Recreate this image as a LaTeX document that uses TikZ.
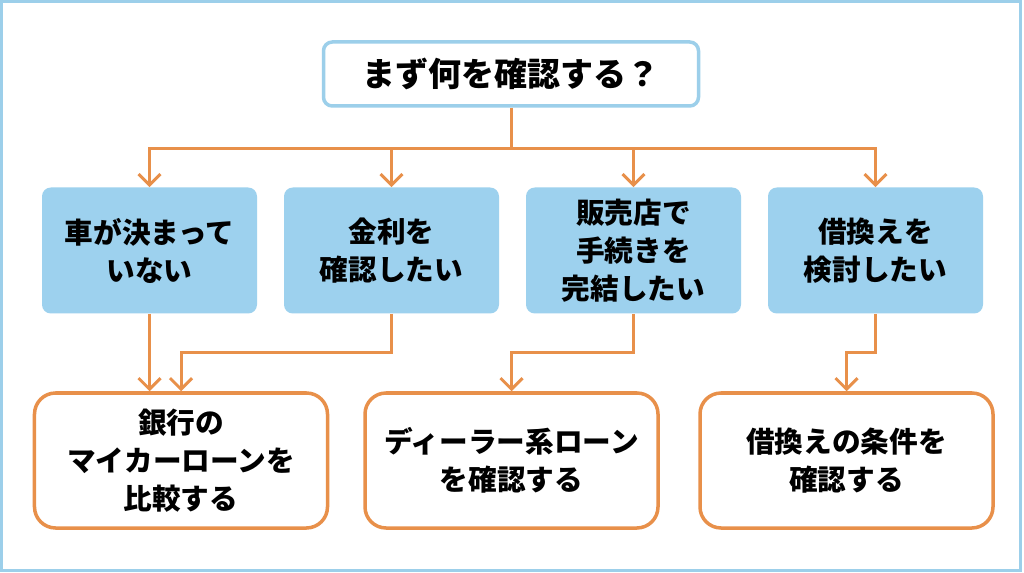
\documentclass[tikz,border=0pt]{standalone}
\usepackage{fontspec}
\setmainfont{Noto Sans CJK JP}
\usepackage{xcolor}
\usetikzlibrary{arrows.meta,positioning,calc}

\definecolor{skyfill}{HTML}{9DD1EE}
\definecolor{skyline}{HTML}{9CCFEA}
\definecolor{carrot}{HTML}{E8904A}

\begin{document}
\begin{tikzpicture}[
        question/.style={draw=skyline, line width=0.07cm, rounded corners=5pt, fill=white,
                         align=center, font=\bfseries\fontsize{18.8}{23}\selectfont,
                         minimum width=7.5cm, minimum height=1.28cm, inner sep=0pt},
        choice/.style={fill=skyfill, rounded corners=5pt, align=center, inner sep=0pt,
                       font=\bfseries\fontsize{16.3}{21.6}\selectfont,
                       minimum width=4.3cm, minimum height=2.52cm},
        answer/.style={draw=carrot, line width=0.07cm, rounded corners=12pt, fill=white,
                       align=center, inner sep=0pt,
                       font=\bfseries\fontsize{16.3}{21.6}\selectfont,
                       minimum width=5.86cm, minimum height=2.7cm},
        link/.style={carrot, line width=0.06cm},
        arrow/.style={link, -{Straight Barb[length=2.2mm,width=4.4mm]}}
    ]
        % page frame
        \fill[white] (0,0) rectangle (20.48,11.44);
        \draw[skyline, line width=0.06cm] (0.04,0.04) rectangle (20.40,11.42);
        \useasboundingbox (0,0) rectangle (20.48,11.44);

        \node[question] (top) at (10.22, 9.97) {まず何を確認する？};

        \node[choice] (q1) at ( 2.99, 6.44) {車が決まって\\いない};
        \node[choice] (q2) at ( 7.83, 6.44) {金利を\\確認したい};
        \node[choice] (q3) at (12.67, 6.44) {販売店で\\手続きを\\完結したい};
        \node[choice] (q4) at (17.51, 6.44) {借換えを\\検討したい};

        \node[answer] (a) at ( 3.62, 2.24) {銀行の\\マイカーローンを\\比較する};
        \node[answer] (b) at (10.23, 2.24) {ディーラー系ローン\\を確認する};
        \node[answer] (c) at (16.93, 2.24) {借換えの条件を\\確認する};

        \coordinate (bus) at (10.22, 8.48);
        \coordinate (mid) at (0, 4.40);

        \draw[link] (top.south) -- (bus);
        \draw[arrow] (bus) -| (q1.north); \draw[arrow] (bus) -| (q2.north);
        \draw[arrow] (bus) -| (q3.north); \draw[arrow] (bus) -| (q4.north);

        \draw[arrow] (q1.south) -- (q1.south |- a.north);
        \draw[arrow] (q2.south) -- (q2.south |- mid) -| (a.north);
        \draw[arrow] (q3.south) -- (q3.south |- mid) -| (b.north);
        \draw[arrow] (q4.south) -- (q4.south |- mid) -| (c.north);
    \end{tikzpicture}
\end{document}
